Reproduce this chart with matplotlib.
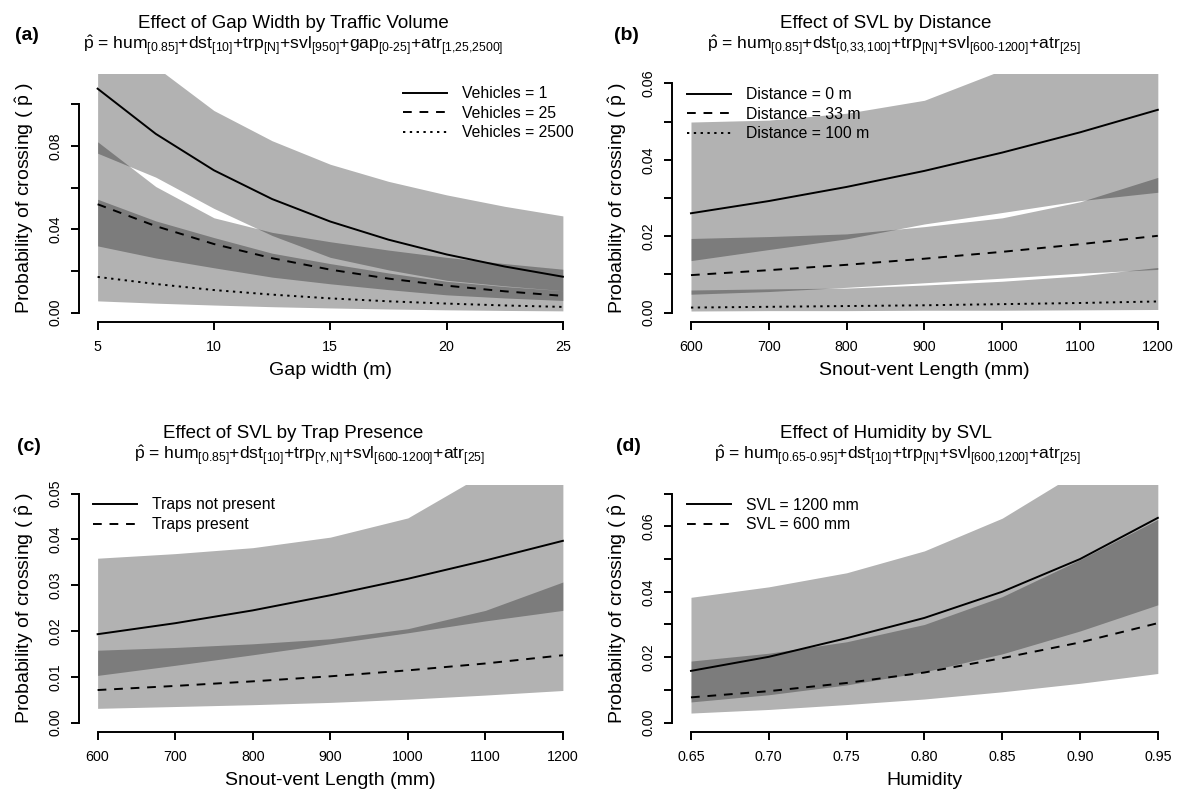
import matplotlib
matplotlib.use('Agg')
import matplotlib.pyplot as plt
from matplotlib.lines import Line2D

plt.rcParams['font.family'] = ['Liberation Sans', 'DejaVu Sans']
plt.rcParams['mathtext.fontset'] = 'custom'
plt.rcParams['mathtext.rm'] = 'Liberation Sans'
plt.rcParams['mathtext.it'] = 'Liberation Sans:italic'
plt.rcParams['mathtext.bf'] = 'Liberation Sans:bold'
plt.rcParams['mathtext.default'] = 'regular'

# ---------------- data ----------------
# (a) gap width by traffic volume
gap_x = [5, 7.5, 10, 12.5, 15, 17.5, 20, 22.5, 25]
a_v1 = [0.1075, 0.0858, 0.0683, 0.0545, 0.0437, 0.0350, 0.0279, 0.0221, 0.0172]
a_v1_lo = [0.0765, 0.0650, 0.0500, 0.0370, 0.0265, 0.0205, 0.0155, 0.0128, 0.0105]
a_v1_hi = [0.150, 0.118, 0.097, 0.0825, 0.0712, 0.0630, 0.0565, 0.0510, 0.0464]
a_v25 = [0.052, 0.0415, 0.0329, 0.0261, 0.0206, 0.0163, 0.0129, 0.0102, 0.0080]
a_v25_lo = [0.032, 0.0262, 0.0215, 0.0170, 0.0138, 0.0110, 0.0085, 0.0070, 0.0058]
a_v25_hi = [0.082, 0.0605, 0.0455, 0.0385, 0.0340, 0.0300, 0.0265, 0.0235, 0.0208]
a_v2500 = [0.0171, 0.0137, 0.0108, 0.0086, 0.0068, 0.0054, 0.0043, 0.0034, 0.0027]
a_v2500_lo = [0.0056, 0.0045, 0.0036, 0.0028, 0.0022, 0.0017, 0.0013, 0.0010, 0.0008]
a_v2500_hi = [0.0544, 0.0440, 0.0360, 0.0285, 0.0235, 0.0190, 0.0150, 0.0125, 0.0105]
a_labels = ['Vehicles = 1', 'Vehicles = 25', 'Vehicles = 2500']

# (b) SVL by distance
svl_x = [600, 700, 800, 900, 1000, 1100, 1200]
b_d0 = [0.0260, 0.0292, 0.0329, 0.0371, 0.0419, 0.0472, 0.0531]
b_d0_lo = [0.0136, 0.0165, 0.0193, 0.0232, 0.0262, 0.0293, 0.0315]
b_d0_hi = [0.0499, 0.0504, 0.0522, 0.0556, 0.0635, 0.075, 0.090]
b_d33 = [0.0098, 0.0111, 0.0125, 0.0141, 0.0159, 0.0179, 0.0201]
b_d33_lo = [0.0048, 0.0055, 0.0066, 0.0078, 0.0090, 0.0103, 0.0113]
b_d33_hi = [0.0194, 0.0199, 0.0206, 0.0225, 0.0248, 0.0290, 0.0354]
b_d100 = [0.0013, 0.0015, 0.0017, 0.0019, 0.0022, 0.0025, 0.0029]
b_d100_lo = [0.0004, 0.0005, 0.0005, 0.0006, 0.0006, 0.0007, 0.0008]
b_d100_hi = [0.0059, 0.0062, 0.0064, 0.0072, 0.0082, 0.0096, 0.0118]
b_labels = ['Distance = 0 m', 'Distance = 33 m', 'Distance = 100 m']

# (c) SVL by trap presence
c_nt = [0.0193, 0.0217, 0.0245, 0.0278, 0.0314, 0.0354, 0.0397]
c_nt_lo = [0.0103, 0.0125, 0.0148, 0.0172, 0.0196, 0.0222, 0.0245]
c_nt_hi = [0.0359, 0.0369, 0.0382, 0.0405, 0.0447, 0.0545, 0.068]
c_t = [0.0071, 0.0080, 0.0090, 0.0101, 0.0114, 0.0129, 0.0147]
c_t_lo = [0.0031, 0.0035, 0.0039, 0.0044, 0.0051, 0.0060, 0.0070]
c_t_hi = [0.0158, 0.0164, 0.0172, 0.0183, 0.0205, 0.0245, 0.0307]
c_labels = ['Traps not present', 'Traps present']

# (d) humidity by SVL
hum_x = [0.65, 0.70, 0.75, 0.80, 0.85, 0.90, 0.95]
d_s1200 = [0.0158, 0.0201, 0.0258, 0.032, 0.040, 0.050, 0.0626]
d_s1200_lo = [0.0063, 0.0085, 0.0115, 0.0155, 0.021, 0.028, 0.036]
d_s1200_hi = [0.0383, 0.0415, 0.0458, 0.0525, 0.0625, 0.077, 0.097]
d_s600 = [0.0077, 0.0096, 0.0121, 0.0153, 0.0197, 0.0245, 0.0304]
d_s600_lo = [0.0029, 0.0040, 0.0055, 0.0072, 0.0094, 0.0120, 0.0150]
d_s600_hi = [0.0188, 0.0212, 0.0247, 0.030, 0.0385, 0.0498, 0.0621]
d_labels = ['SVL = 1200 mm', 'SVL = 600 mm']

# ---------------- figure ----------------
W, H = 1178, 792
fig = plt.figure(figsize=(W / 100, H / 100), dpi=100)

LW = 1.4
STYLES = [dict(linestyle='-'), dict(linestyle=(0, (4.5, 4.0))), dict(linestyle=(0, (1.2, 2.3)))]


def rect(l, t, r, b):
    return [l / W, 1 - b / H, (r - l) / W, (b - t) / H]


def setup(ax, xlim, xticks, xlabels, ylim, yticks, ylabels, xlabel):
    ax.set_xlim(*xlim)
    ax.set_ylim(*ylim)
    for s in ('top', 'right'):
        ax.spines[s].set_visible(False)
    for s in ('left', 'bottom'):
        ax.spines[s].set_linewidth(LW)
    ax.spines['bottom'].set_bounds(xticks[0], xticks[-1])
    ax.spines['left'].set_bounds(yticks[0], yticks[-1])
    ax.set_xticks(xticks)
    ax.set_xticklabels(xlabels)
    ax.set_yticks(yticks)
    ax.set_yticklabels(ylabels)
    ax.tick_params(axis='both', direction='out', length=6.1, width=LW, labelsize=10.3)
    ax.tick_params(axis='x', pad=7)
    ax.tick_params(axis='y', pad=6, labelrotation=90)
    for t in ax.get_yticklabels():
        t.set_va('center')
    ax.set_xlabel(xlabel, fontsize=14)
    ax.xaxis.set_label_coords(0.5, -0.215)
    ax.xaxis.label.set_va('baseline')
    ax.set_ylabel(r'Probability of crossing ( $\hat{p}$ )', fontsize=14)
    ax.yaxis.set_label_coords(-0.085, 0.5)
    ax.yaxis.label.set_va('bottom')
    ax.patch.set_visible(False)


def draw(ax, x, series, labels, leg_xy):
    for (mid, lo, hi) in series:
        ax.fill_between(x, lo, hi, color='black', alpha=0.3, linewidth=0)
    handles = []
    for (mid, lo, hi), st in zip(series, STYLES):
        ax.plot(x, mid, color='black', lw=LW, **st)
        handles.append(Line2D([], [], color='black', lw=LW, **st))
    ax.legend(handles, labels, loc='upper left',
              bbox_to_anchor=(leg_xy[0] / W, 1 - leg_xy[1] / H),
              bbox_transform=fig.transFigure, frameon=False, fontsize=11.3,
              handlelength=2.78, handletextpad=0.96, labelspacing=0.3,
              borderpad=0, borderaxespad=0)


def f2(v):
    return '%.2f' % v


# (a)
ax = fig.add_axes(rect(79, 74.3, 581.5, 321.7))
draw(ax, gap_x, [(a_v1, a_v1_lo, a_v1_hi), (a_v25, a_v25_lo, a_v25_hi),
                 (a_v2500, a_v2500_lo, a_v2500_hi)], a_labels, (403, 86))
yt = [0, 0.02, 0.04, 0.06, 0.08, 0.10]
setup(ax, (4.2, 25.8), [5, 10, 15, 20, 25], ['5', '10', '15', '20', '25'],
      (-0.0044, 0.1144), yt, ['0.00', '', '0.04', '', '0.08', ''], 'Gap width (m)')

# (b)
ax = fig.add_axes(rect(672.3, 74.3, 1176.5, 321.7))
draw(ax, svl_x, [(b_d0, b_d0_lo, b_d0_hi), (b_d33, b_d33_lo, b_d33_hi),
                 (b_d100, b_d100_lo, b_d100_hi)], b_labels, (687.3, 87))
yt = [0, 0.01, 0.02, 0.03, 0.04, 0.05, 0.06]
setup(ax, (576, 1224), svl_x, [str(v) for v in svl_x],
      (-0.0024, 0.0624), yt, ['0.00', '', '0.02', '', '0.04', '', '0.06'],
      'Snout-vent Length (mm)')

# (c)
ax = fig.add_axes(rect(79, 484.5, 581.5, 731.7))
draw(ax, svl_x, [(c_nt, c_nt_lo, c_nt_hi), (c_t, c_t_lo, c_t_hi)], c_labels, (93.3, 497.5))
yt = [0, 0.01, 0.02, 0.03, 0.04, 0.05]
setup(ax, (576, 1224), svl_x, [str(v) for v in svl_x],
      (-0.002, 0.052), yt, [f2(v) for v in yt], 'Snout-vent Length (mm)')

# (d)
ax = fig.add_axes(rect(672.3, 484.5, 1176.5, 731.7))
draw(ax, hum_x, [(d_s1200, d_s1200_lo, d_s1200_hi), (d_s600, d_s600_lo, d_s600_hi)],
     d_labels, (687.3, 497.5))
yt = [0, 0.01, 0.02, 0.03, 0.04, 0.05, 0.06, 0.07]
setup(ax, (0.638, 0.962), hum_x, [f2(v) for v in hum_x],
      (-0.0028, 0.0728), yt, ['0.00', '', '0.02', '', '0.04', '', '0.06', ''], 'Humidity')

# titles
titles = [
    (293, 28.5, 'Effect of Gap Width by Traffic Volume'),
    (886, 28.5, 'Effect of SVL by Distance'),
    (293, 438.5, 'Effect of SVL by Trap Presence'),
    (886, 438.5, 'Effect of Humidity by SVL'),
]
for x, y, s in titles:
    fig.text(x / W, 1 - y / H, s, ha='center', va='baseline', fontsize=13.5)

subs = [
    (293, 50, r'$\hat{p}$ = hum$_{[0.85]}$+dst$_{[10]}$+trp$_{[N]}$+svl$_{[950]}$+gap$_{[0\text{-}25]}$+atr$_{[1{,}25{,}2500]}$'),
    (894, 50, r'$\hat{p}$ = hum$_{[0.85]}$+dst$_{[0{,}33{,}100]}$+trp$_{[N]}$+svl$_{[600\text{-}1200]}$+atr$_{[25]}$'),
    (310, 460.5, r'$\hat{p}$ = hum$_{[0.85]}$+dst$_{[10]}$+trp$_{[Y{,}N]}$+svl$_{[600\text{-}1200]}$+atr$_{[25]}$'),
    (897, 460.5, r'$\hat{p}$ = hum$_{[0.65\text{-}0.95]}$+dst$_{[10]}$+trp$_{[N]}$+svl$_{[600{,}1200]}$+atr$_{[25]}$'),
]
for x, y, s in subs:
    fig.text(x / W, 1 - y / H, s, ha='center', va='baseline', fontsize=12.6)

for x, y, s in [(15, 39.5, '(a)'), (614, 39.5, '(b)'), (17, 451, '(c)'), (616, 451, '(d)')]:
    fig.text(x / W, 1 - y / H, s, ha='left', va='baseline', fontsize=14, fontweight='bold')

fig.savefig('out.png', dpi=100)
